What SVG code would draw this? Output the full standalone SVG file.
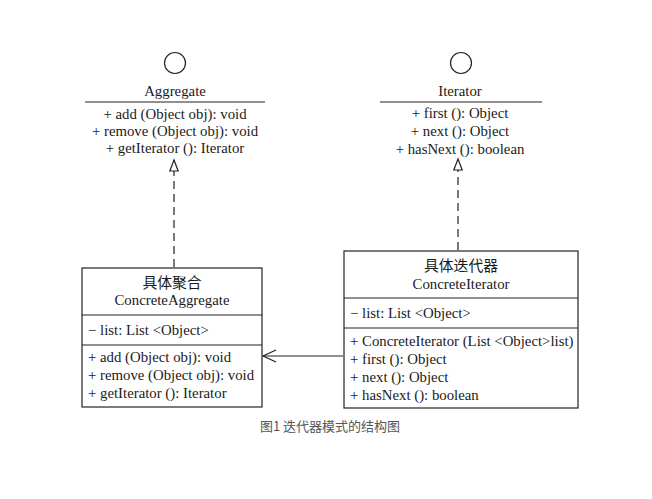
<svg xmlns="http://www.w3.org/2000/svg" width="652" height="499" viewBox="0 0 652 499">
<style>
.t{font-family:"Liberation Serif","Noto Sans CJK SC",serif;font-size:14.8px;fill:#1a1a1a}
.c{text-anchor:middle}
.box{fill:#fff;stroke:#222;stroke-width:1.2}
.ln{stroke:#222;stroke-width:1.2;fill:none}
.dash{stroke:#222;stroke-width:1.2;fill:none;stroke-dasharray:8 5}
.cap{font-family:"Noto Sans CJK SC",sans-serif;font-size:13px;fill:#555}
</style>
<defs>
<marker id="tri" markerWidth="14" markerHeight="14" refX="12" refY="7" orient="auto" markerUnits="userSpaceOnUse">
<path d="M12,7 L1,2.8 L1,11.2 Z" fill="#fff" stroke="#222" stroke-width="1.2"/>
</marker>
<marker id="open" markerWidth="16" markerHeight="16" refX="14" refY="8" orient="auto" markerUnits="userSpaceOnUse">
<path d="M1,2 L14,8 L1,14" fill="none" stroke="#222" stroke-width="1.2"/>
</marker>
</defs>
<rect width="652" height="499" fill="#fff"/>
<g id="Aggregate">
<circle cx="175" cy="63" r="10.5" class="ln"/>
<text class="t c" x="175" y="96">Aggregate</text>
<line x1="85" y1="102" x2="265" y2="102" class="ln"/>
<text class="t c" x="175" y="119">+ add (Object obj): void</text>
<text class="t c" x="175" y="136">+ remove (Object obj): void</text>
<text class="t c" x="175" y="153">+ getIterator (): Iterator</text>
</g>
<g id="Iterator">
<circle cx="461" cy="63" r="10.5" class="ln"/>
<text class="t c" x="460" y="96">Iterator</text>
<line x1="380" y1="102" x2="542" y2="102" class="ln"/>
<text class="t c" x="460" y="118">+ first (): Object</text>
<text class="t c" x="460" y="136">+ next (): Object</text>
<text class="t c" x="460" y="154">+ hasNext (): boolean</text>
</g>
<g id="ConcreteAggregate">
<rect x="82" y="268" width="180" height="139" class="box"/>
<line x1="82" y1="315" x2="262" y2="315" class="ln"/>
<line x1="82" y1="345" x2="262" y2="345" class="ln"/>
<text class="t c" x="172" y="288">具体聚合</text>
<text class="t c" x="172" y="305">ConcreteAggregate</text>
<text class="t" x="88" y="335">− list: List &lt;Object&gt;</text>
<text class="t" x="88" y="362">+ add (Object obj): void</text>
<text class="t" x="88" y="380">+ remove (Object obj): void</text>
<text class="t" x="88" y="398">+ getIterator (): Iterator</text>
</g>
<g id="ConcreteIterator">
<rect x="344" y="251" width="234" height="157" class="box"/>
<line x1="344" y1="298" x2="578" y2="298" class="ln"/>
<line x1="344" y1="328" x2="578" y2="328" class="ln"/>
<text class="t c" x="461" y="271">具体迭代器</text>
<text class="t c" x="461" y="289">ConcreteIterator</text>
<text class="t" x="350" y="318">− list: List &lt;Object&gt;</text>
<text class="t" x="350" y="346">+ ConcreteIterator (List &lt;Object&gt;list)</text>
<text class="t" x="350" y="364">+ first (): Object</text>
<text class="t" x="350" y="382">+ next (): Object</text>
<text class="t" x="350" y="400">+ hasNext (): boolean</text>
</g>
<g id="connectors">
<line x1="174" y1="267" x2="174" y2="160" class="dash" marker-end="url(#tri)"/>
<line x1="458" y1="250" x2="458" y2="159" class="dash" marker-end="url(#tri)"/>
<line x1="343" y1="356" x2="263" y2="356" class="ln" marker-end="url(#open)"/>
</g>
<text class="cap c" x="330" y="431">图1 迭代器模式的结构图</text>
</svg>
